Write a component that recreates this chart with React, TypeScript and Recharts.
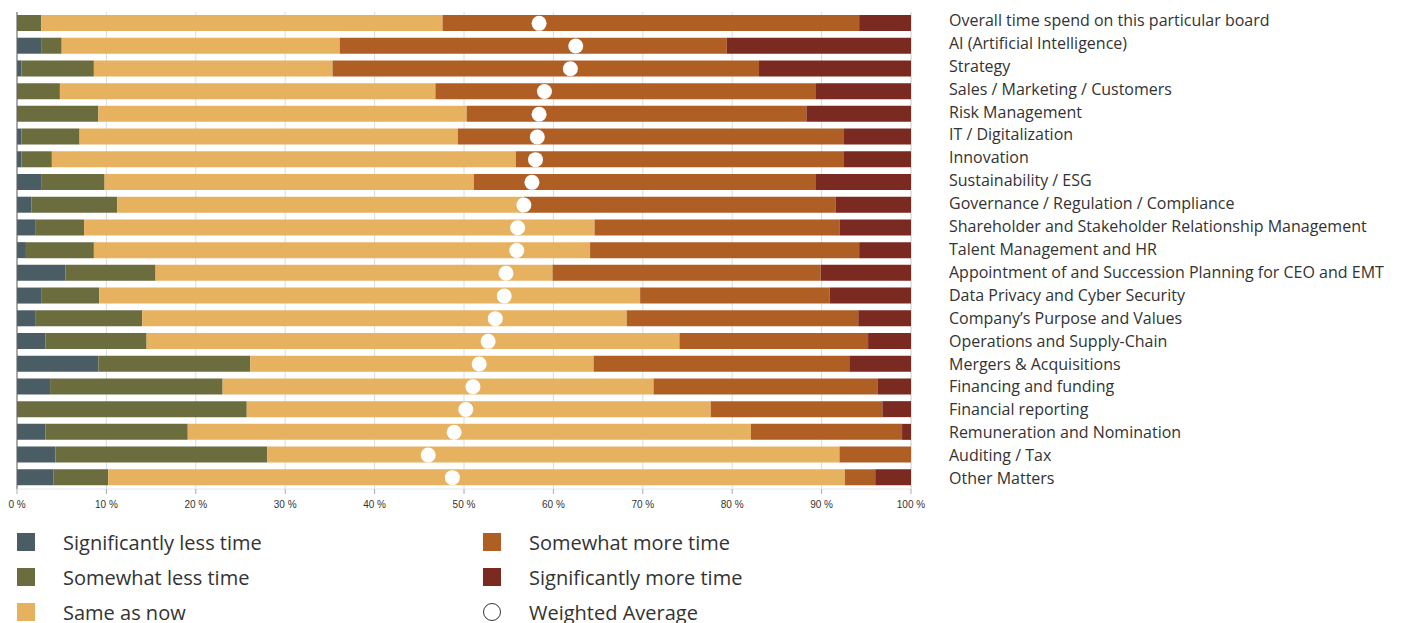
import React from 'react';
import { ComposedChart, Bar, Line, XAxis, YAxis, CartesianGrid, ReferenceLine } from 'recharts';

const categories = [
  'Overall time spend on this particular board',
  'AI (Artificial Intelligence)',
  'Strategy',
  'Sales / Marketing / Customers',
  'Risk Management',
  'IT / Digitalization',
  'Innovation',
  'Sustainability / ESG',
  'Governance / Regulation / Compliance',
  'Shareholder and Stakeholder Relationship Management',
  'Talent Management and HR',
  'Appointment of and Succession Planning for CEO and EMT',
  'Data Privacy and Cyber Security',
  'Company\u2019s Purpose and Values',
  'Operations and Supply-Chain',
  'Mergers & Acquisitions',
  'Financing and funding',
  'Financial reporting',
  'Remuneration and Nomination',
  'Auditing / Tax',
  'Other Matters',
];

const sigLess = [0, 2.7, 0.5, 0, 0, 0.5, 0.5, 2.7, 1.6, 2.1, 1.0, 5.4, 2.7, 2.1, 3.2, 9.1, 3.7, 0, 3.2, 4.3, 4.1];
const someLess = [2.7, 2.3, 8.1, 4.8, 9.1, 6.5, 3.4, 7.1, 9.6, 5.4, 7.6, 10.1, 6.5, 11.9, 11.3, 17.0, 19.3, 25.7, 15.9, 23.7, 6.1];
const sameNow = [44.9, 31.1, 26.7, 42.0, 41.2, 42.3, 51.9, 41.3, 45.5, 57.1, 55.5, 44.4, 60.5, 54.2, 59.6, 38.4, 48.2, 51.9, 63.0, 64.0, 82.4];
const someMore = [46.6, 43.3, 47.7, 42.5, 38.0, 43.2, 36.7, 38.2, 34.9, 27.4, 30.1, 30.0, 21.2, 25.9, 21.1, 28.6, 25.1, 19.2, 16.9, 8.0, 3.4];
const sigMore = [5.8, 20.6, 17.0, 10.7, 11.7, 7.5, 7.5, 10.7, 8.4, 8.0, 5.8, 10.1, 9.1, 5.9, 4.8, 6.9, 3.7, 3.2, 1.0, 0, 4.0];
const weightedAvg = [58.4, 62.5, 61.9, 59.0, 58.4, 58.2, 58.0, 57.6, 56.7, 56.0, 55.9, 54.7, 54.5, 53.5, 52.7, 51.7, 51.0, 50.2, 48.9, 46.0, 48.7];

const xTicks = [0, 10, 20, 30, 40, 50, 60, 70, 80, 90, 100];

const seriesNames = [
  'Significantly less time',
  'Somewhat less time',
  'Same as now',
  'Somewhat more time',
  'Significantly more time',
];
const avgName = 'Weighted Average';

const COLORS = ['#4b5d64', '#6b6d3e', '#e6b260', '#b05f24', '#7b2a21'];

const data = categories.map((name, i) => ({
  name,
  sl: sigLess[i],
  wl: someLess[i],
  same: sameNow[i],
  wm: someMore[i],
  sm: sigMore[i],
  avg: weightedAvg[i],
}));

const keys = ['sl', 'wl', 'same', 'wm', 'sm'];

const CategoryTick = (props: any) => {
  const { x, y, payload, index } = props;
  const idx = typeof index === 'number' ? index : 0;
  return (
    <text
      x={x + 30}
      y={y - 3.5 + idx * 0.2}
      dominantBaseline="central"
      textAnchor="start"
      fontFamily="'Open Sans', sans-serif"
      fontSize={16}
      fill="#333"
    >
      {payload.value}
    </text>
  );
};

const FONT = "'Open Sans', sans-serif";

export default function App() {
  const legendItems = [
    { label: seriesNames[0], color: COLORS[0], col: 0, row: 0 },
    { label: seriesNames[1], color: COLORS[1], col: 0, row: 1 },
    { label: seriesNames[2], color: COLORS[2], col: 0, row: 2 },
    { label: seriesNames[3], color: COLORS[3], col: 1, row: 0 },
    { label: seriesNames[4], color: COLORS[4], col: 1, row: 1 },
    { label: avgName, color: null, col: 1, row: 2 },
  ];
  return (
    <div style={{ width: 1393, fontFamily: FONT }}>
      <ComposedChart
        width={1393}
        height={506}
        data={data}
        layout="vertical"
        margin={{ top: 4, right: 0, bottom: 0, left: 9 }}
        barSize={16}
      >
        <CartesianGrid horizontal={false} vertical={true} stroke="#dcdcdc" />
        <XAxis
          type="number"
          domain={[0, 100]}
          ticks={xTicks}
          tickFormatter={(v: number) => `${v} %`}
          tick={{ fontSize: 10, fill: '#333', fontFamily: "'Liberation Sans Narrow', 'Liberation Sans', sans-serif" }}
          tickSize={5}
          tickMargin={7}
          tickLine={{ stroke: '#aaa' }}
          axisLine={{ stroke: '#e6e6e6' }}
          height={25}
          interval={0}
        />
        <YAxis
          type="category"
          dataKey="name"
          orientation="right"
          width={490}
          axisLine={false}
          tickLine={false}
          tick={<CategoryTick />}
          interval={0}
        />
        {keys.map((k, i) => (
          <Bar key={k} dataKey={k} name={seriesNames[i]} stackId="a" fill={COLORS[i]} isAnimationActive={false} />
        ))}
        <ReferenceLine x={0} stroke="#666" strokeWidth={1} />
        <Line
          dataKey="avg"
          name={avgName}
          stroke="none"
          dot={{ r: 7.5, fill: '#ffffff', stroke: 'none' }}
          activeDot={false}
          isAnimationActive={false}
          legendType="none"
        />
      </ComposedChart>
      <div style={{ position: 'relative', height: 110, width: 1393 }}>
        {legendItems.map((it) => (
          <div
            key={it.label}
            style={{
              position: 'absolute',
              left: 9 + it.col * 466,
              top: 19 + it.row * 35,
              height: 18,
              display: 'flex',
              alignItems: 'center',
            }}
          >
            {it.color ? (
              <div style={{ width: 18, height: 18, background: it.color }} />
            ) : (
              <div
                style={{
                  width: 18,
                  height: 18,
                  borderRadius: '50%',
                  border: '1px solid #333',
                  boxSizing: 'border-box',
                }}
              />
            )}
            <span style={{ marginLeft: 28, fontSize: 20, color: '#333', whiteSpace: 'nowrap' }}>{it.label}</span>
          </div>
        ))}
      </div>
    </div>
  );
}
